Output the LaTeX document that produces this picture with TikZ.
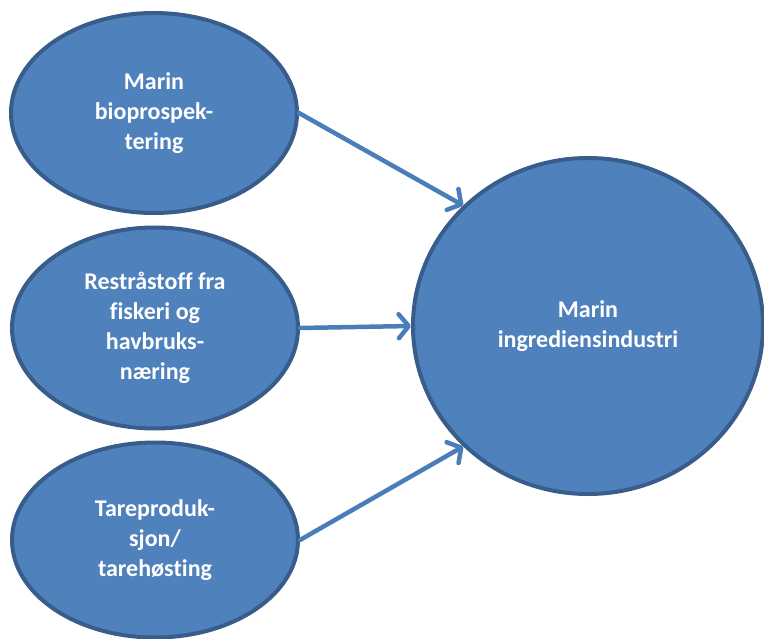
\documentclass[tikz,border=0pt]{standalone}
\usepackage{fontspec}
\setmainfont{Carlito}[Ligatures=NoCommon]
\usetikzlibrary{shapes,positioning,arrows.meta}

\definecolor{blobfill}{HTML}{4F81BD}
\definecolor{blobline}{HTML}{385D8A}
\definecolor{arrowcol}{HTML}{4A7EBB}

\begin{document}
\begin{tikzpicture}[x=1pt,y=-1pt]

        \def\lw{4pt}

        % Styles for the bubbles and the arrows between them
        \tikzset{
            blob/.style={ellipse, draw=blobline, fill=blobfill, line width=\lw,
                text=white, font=\bfseries\fontsize{24}{30}\selectfont,
                align=center, inner sep=0pt},
            feed/.style={draw=arrowcol, line width=4.5pt, line cap=round,
                -{Straight Barb[length=10pt,width=24pt,line cap=round,line join=round]}}
        }

        \useasboundingbox (0,0) rectangle (764,639);

        % Scope used for the source bubbles on the left
        \begin{scope}
            \node[blob, minimum width=286, minimum height=200] (S1) at (154, 113)
            {Marin\\bioprospek-\\tering};
            \node[blob, minimum width=286, minimum height=201] (S2) at (155, 328)
            {Restråstoff fra\\fiskeri og\\havbruks-\\næring};
            \node[blob, minimum width=286, minimum height=195] (S3) at (155, 540)
            {Tareproduk-\\sjon/\\tarehøsting};
            \node[blob, minimum width=350, minimum height=336] (M) at (588, 326)
            {Marin\\ingrediensindustri};
        \end{scope}

        \begin{scope}
            \draw[feed] (S1.east) -- (M.136);
            \draw[feed] (S2.east) -- (M.180);
            \draw[feed] (S3.east) -- (M.224);
        \end{scope}

\end{tikzpicture}
\end{document}
